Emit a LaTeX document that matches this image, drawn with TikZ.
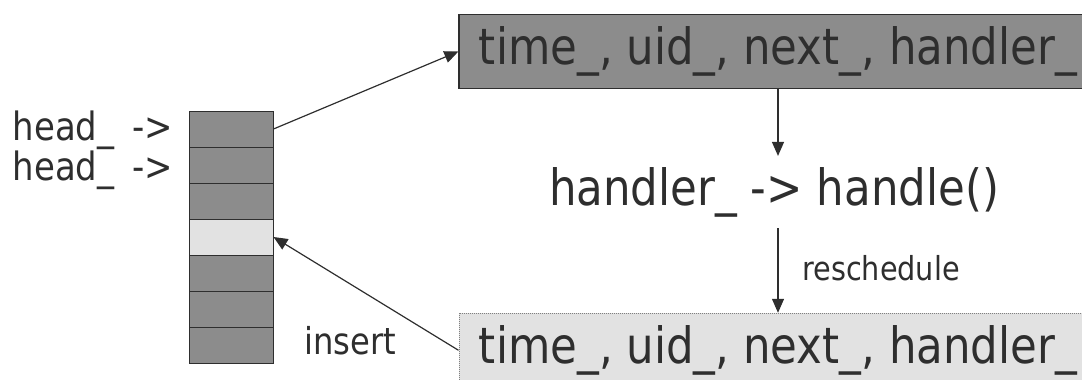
\documentclass[tikz,border=0pt]{standalone}
\usepackage{fontspec}
\setmainfont{DejaVu Sans}[FakeStretch=0.87]
\usetikzlibrary{arrows.meta}
\definecolor{cellgray}{HTML}{8C8C8C}
\definecolor{lightcell}{HTML}{E2E2E2}
\definecolor{ink}{HTML}{2E2E2E}
\tikzset{
	cell/.style={draw=ink, minimum width=84pt, minimum height=36pt, inner sep=0pt, line width=1pt},
	record/.style={minimum width=638pt, minimum height=74pt, inner sep=0pt, text=ink, font=\fontsize{50}{54}\selectfont},
	link/.style={draw=ink, line width=1.2pt, -{Triangle[length=14pt,width=12pt]}},
}

\begin{document}
\begin{tikzpicture}[x=1pt,y=-1pt]
	\useasboundingbox (0,0) rectangle (1082,380);
	\clip (0,0) rectangle (1082,380);

	% queue slots
	\foreach \i/\col in {1/cellgray,2/cellgray,3/cellgray,4/lightcell,5/cellgray,6/cellgray,7/cellgray} {
		\node[cell, fill=\col] (c\i) at (231,{111+36*(\i-.5)}) {};
	}
	\node[anchor=north east, inner sep=0pt, align=left, text=ink, font=\fontsize{39}{30}\selectfont] (heads) at (173,111) {head\_\hspace{7pt} ->\\head\_\hspace{7pt} ->};

	% events
	\node[record, draw=ink, fill=cellgray, line width=1.2pt] (ev) at (778,51.5) {time\_, uid\_, next\_, handler\_};
	\node[inner ysep=11pt, inner xsep=0pt, text=ink, font=\fontsize{50}{54}\selectfont] (call) at (774,192) {handler\_ -> handle()};
	\node[record, draw=gray, dash pattern=on 1pt off 1pt, fill=lightcell, line width=1pt] (ev2) at (778,350.3) {time\_, uid\_, next\_, handler\_};

	\node[anchor=west, inner sep=0pt, text=ink, font=\fontsize{33}{36}\selectfont] (resch) at (802,268) {reschedule};
	\node[inner sep=0pt, text=ink, font=\fontsize{37}{40}\selectfont] (ins) at (350,341) {insert};

	\draw[link] (c1.east) -- (ev.west);
	\draw[link] (ev.south) -- (ev.south |- call.north);
	\draw[link] (ev.south |- call.south) -- (ev2.north);
	\draw[link] (ev2.west) -- (c4.east);
\end{tikzpicture}
\end{document}
